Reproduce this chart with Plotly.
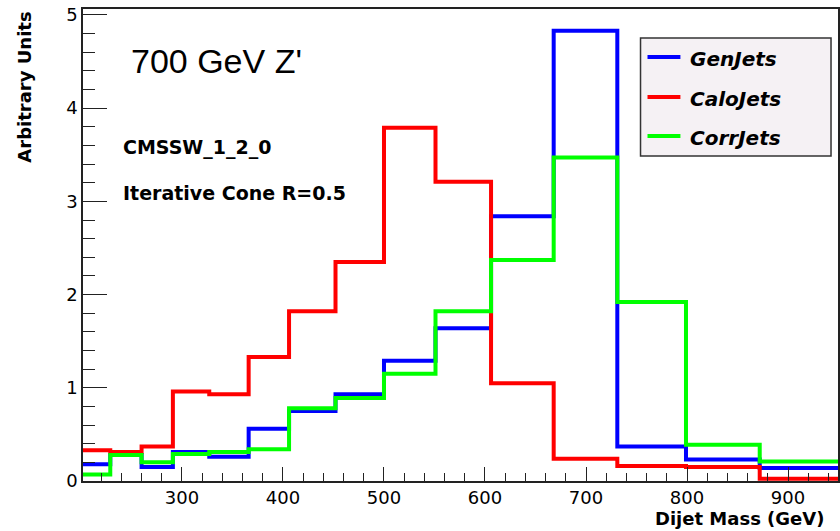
import plotly.graph_objects as go

# Dijet mass histograms (variable-width bins, GeV) for a 700 GeV Z'
bin_edges = [200, 229, 260, 291, 327, 366, 406, 452, 500, 551, 606, 668, 731, 799, 872, 960]
gen_jets = [0.18, 0.28, 0.15, 0.31, 0.26, 0.56, 0.75, 0.93, 1.29, 1.64, 2.84, 4.83, 0.37, 0.23, 0.14]
calo_jets = [0.33, 0.31, 0.37, 0.96, 0.93, 1.33, 1.82, 2.35, 3.79, 3.21, 1.05, 0.24, 0.16, 0.15, 0.025]
corr_jets = [0.07, 0.28, 0.20, 0.29, 0.31, 0.34, 0.78, 0.89, 1.15, 1.82, 2.37, 3.47, 1.92, 0.39, 0.21]

series_names = ["GenJets", "CaloJets", "CorrJets"]
series_values = [gen_jets, calo_jets, corr_jets]
series_colors = ["#0000ff", "#ff0000", "#00ff00"]

x_ticks = [300, 400, 500, 600, 700, 800, 900]
y_ticks = [0, 1, 2, 3, 4, 5]

W, H = 840, 531
L, R, T, B = 83, 840, 9, 481  # plot area in pixels
PW, PH = R - L, B - T


def px_x(p):
    return (p - L) / PW


def px_y(p):
    return (B - p) / PH


BOLD = "DejaVu Sans"

fig = go.Figure()
for name, vals, col in zip(series_names, series_values, series_colors):
    fig.add_trace(go.Scatter(
        x=bin_edges,
        y=list(vals) + [vals[-1]],
        mode="lines",
        line=dict(color=col, width=4, shape="hv"),
        name=name,
        showlegend=False,
        hoverinfo="skip",
    ))

annotations = [
    dict(text="700 GeV Z'", x=px_x(129), y=px_y(61), xanchor="left", yanchor="middle",
         font=dict(family="Liberation Sans", size=34, color="black")),
    dict(text="<b>CMSSW_1_2_0</b>", x=px_x(121), y=px_y(147), xanchor="left", yanchor="middle",
         font=dict(family=BOLD, size=19, color="black")),
    dict(text="<b>Iterative Cone R=0.5</b>", x=px_x(121), y=px_y(193), xanchor="left", yanchor="middle",
         font=dict(family=BOLD, size=19, color="black")),
    dict(text="<b>Arbitrary Units</b>", x=px_x(24), y=px_y(10), xanchor="center", yanchor="top",
         textangle=-90, font=dict(family=BOLD, size=18, color="black")),
    dict(text="<b>Dijet Mass (GeV)</b>", x=px_x(655), y=px_y(518), xanchor="left", yanchor="middle",
         font=dict(family=BOLD, size=18, color="black")),
]

# Legend box drawn by hand
shapes = [dict(type="rect", xref="paper", yref="paper",
               x0=px_x(642), x1=px_x(833), y0=px_y(156), y1=px_y(38),
               fillcolor="#f5f1f4", line=dict(color="#333333", width=1.5), layer="above")]
rows = [57, 97, 136]
for name, col, ry in zip(series_names, series_colors, rows):
    shapes.append(dict(type="line", xref="paper", yref="paper",
                       x0=px_x(649), x1=px_x(682), y0=px_y(ry), y1=px_y(ry),
                       line=dict(color=col, width=4), layer="above"))
    annotations.append(dict(text="<b><i>%s</i></b>" % name, x=px_x(690), y=px_y(ry + 2),
                            xanchor="left", yanchor="middle",
                            font=dict(family=BOLD, size=20, color="black")))

for a in annotations:
    a.update(xref="paper", yref="paper", showarrow=False)

fig.update_layout(
    width=W, height=H,
    margin=dict(l=L, r=W - R, t=T, b=H - B),
    paper_bgcolor="white", plot_bgcolor="white",
    showlegend=False,
    annotations=annotations,
    shapes=shapes,
    xaxis=dict(
        range=[202, 949.5], tickvals=x_ticks, ticktext=[str(v) for v in x_ticks],
        ticks="inside", ticklen=14, tickwidth=1.3, tickcolor="#222",
        minor=dict(ticks="inside", ticklen=8, dtick=20, tickwidth=1.3, tickcolor="#222"),
        showline=True, linecolor="#222", linewidth=1.5, mirror=True,
        showgrid=False, zeroline=False,
        tickfont=dict(family=BOLD, size=18, color="black"),
    ),
    yaxis=dict(
        range=[0, 5.064], tickvals=y_ticks, ticktext=[str(v) for v in y_ticks],
        ticks="inside", ticklen=24, tickwidth=1.3, tickcolor="#222",
        minor=dict(ticks="inside", ticklen=12, dtick=0.2, tickwidth=1.3, tickcolor="#222"),
        showline=True, linecolor="#222", linewidth=1.5, mirror=True,
        showgrid=False, zeroline=False,
        tickfont=dict(family=BOLD, size=18, color="black"),
    ),
)

fig.write_html("out.html")
